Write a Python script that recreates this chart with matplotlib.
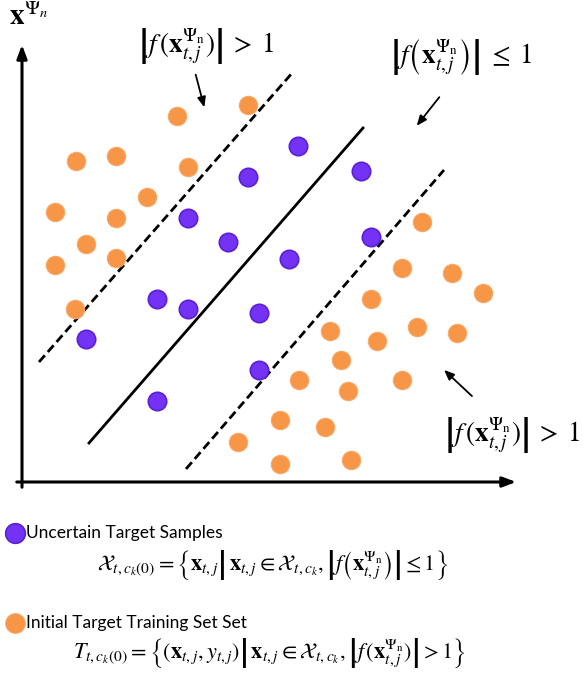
import matplotlib
matplotlib.use("Agg")
import matplotlib.pyplot as plt
import numpy as np

plt.rcParams['mathtext.fontset'] = 'stix'
plt.rcParams['font.family'] = ['Lato', 'DejaVu Sans']

# feature space coords (origin at axes crossing, y up)
orange_x = [155, 226, 54, 94, 166, 125, 33, 94, 64, 94, 33, 53,
            400, 380, 430, 461, 349, 395, 435, 308, 355, 319, 277, 326,
            380, 258, 303, 216, 258, 329]
orange_y = [366, 377, 321, 326, 315, 285, 270, 264, 238, 224, 217, 173,
            260, 214, 209, 189, 183, 155, 149, 151, 141, 122, 102, 91,
            102, 62, 55, 40, 18, 22]
purple_x = [276, 339, 226, 166, 206, 349, 267, 135, 166, 237, 64, 237, 135]
purple_y = [336, 311, 305, 264, 240, 245, 223, 183, 173, 169, 143, 112, 81]

# separating hyperplane and margins (x0, y0, x1, y1)
upper_margin = [17, 120, 271, 410]
hyperplane = [67, 39, 341, 354]
lower_margin = [164, 13, 422, 312]

fig = plt.figure(figsize=(5.83, 6.77), dpi=100)
ax = fig.add_axes([0, 0, 1, 1])
ax.set_xlim(-22, 561)
ax.set_ylim(-195, 482)
ax.axis('off')

# axes arrows
ax.annotate('', xy=(0, 440), xytext=(0, -8),
            arrowprops=dict(arrowstyle='-|>,head_length=0.8,head_width=0.3', lw=2.2, color='black'))
ax.annotate('', xy=(497, 0), xytext=(-8, 0),
            arrowprops=dict(arrowstyle='-|>,head_length=0.8,head_width=0.3', lw=2.2, color='black'))

ax.plot(upper_margin[::2], upper_margin[1::2], color='black', lw=2, ls=(0, (3.2, 1.6)))
ax.plot(hyperplane[::2], hyperplane[1::2], color='black', lw=2)
ax.plot(lower_margin[::2], lower_margin[1::2], color='black', lw=2, ls=(0, (3.2, 1.6)))

ax.scatter(orange_x, orange_y, s=175, color='#F79646', edgecolors='#F8A868', linewidths=0.8, zorder=3)
ax.scatter(purple_x, purple_y, s=175, color='#7433F4', edgecolors='#5B1FD6', linewidths=1.2, zorder=3)

ax.text(-13, 466, r'$\mathbf{x}^{\Psi_n}$', fontsize=21, va='center', ha='left')

# annotations
ax.text(116, 435, r'$\left|f\,(\mathbf{x}_{t,j}^{\Psi_\mathrm{n}})\right|\;>\;1$', fontsize=19.5,
        va='center', ha='left')
ax.annotate('', xy=(183, 372), xytext=(173, 410),
            arrowprops=dict(arrowstyle='-|>,head_length=0.6,head_width=0.25', lw=1.3, color='black'))

ax.text(368, 424, r'$\left|f\left(\mathbf{x}_{t,j}^{\Psi_\mathrm{n}}\right)\right|\;\leq\;1$', fontsize=19.5,
        va='center', ha='left')
ax.annotate('', xy=(393, 354), xytext=(419, 387),
            arrowprops=dict(arrowstyle='-|>,head_length=0.6,head_width=0.25', lw=1.3, color='black'))

ax.text(422, 46, r'$\left|f\,(\mathbf{x}_{t,j}^{\Psi_\mathrm{n}})\right|\;>\;1$', fontsize=19.5,
        va='center', ha='left')
ax.annotate('', xy=(420, 114), xytext=(452, 84),
            arrowprops=dict(arrowstyle='-|>,head_length=0.6,head_width=0.25', lw=1.3, color='black'))

# legend
ax.scatter([-7], [-51], s=200, color='#7433F4', edgecolors='#5B1FD6', linewidths=1.2)
ax.text(4, -51, 'Uncertain Target Samples', fontsize=12.5, va='center', ha='left')
ax.text(250, -83,
        r'$\mathcal{X}_{t,c_k(0)} = \left\{\mathbf{x}_{t,j}\left|\,\mathbf{x}_{t,j} \in \mathcal{X}_{t,c_k},'
        r'\left|f\left(\mathbf{x}_{t,j}^{\Psi_\mathrm{n}}\right)\right| \leq 1\right.\right\}$',
        fontsize=16, va='center', ha='center')

ax.scatter([-7], [-141], s=200, color='#F79646', edgecolors='#F8A868', linewidths=0.8)
ax.text(4, -141, 'Initial Target Training Set Set', fontsize=12.5, va='center', ha='left')
ax.text(247, -171,
        r'$T_{t,c_k(0)} = \left\{(\mathbf{x}_{t,j}, y_{t,j})\left|\,\mathbf{x}_{t,j} \in \mathcal{X}_{t,c_k},'
        r'\left|f\,(\mathbf{x}_{t,j}^{\Psi_\mathrm{n}})\right| > 1\right.\right\}$',
        fontsize=16, va='center', ha='center')

fig.savefig('out.png', dpi=100)
